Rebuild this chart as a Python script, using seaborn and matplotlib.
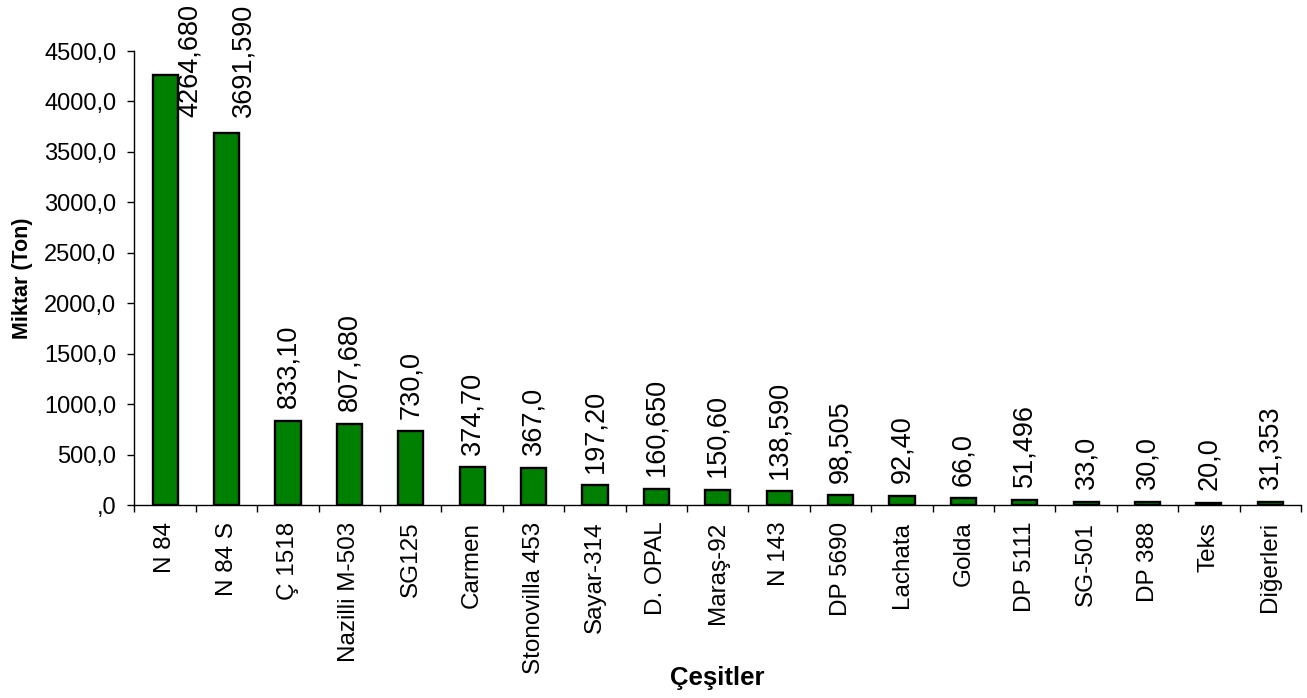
import matplotlib
matplotlib.use("Agg")
import matplotlib.pyplot as plt
from matplotlib.ticker import FuncFormatter, FixedLocator
import seaborn as sns
import pandas as pd
import numpy as np

categories = ["N 84", "N 84 S", "Ç 1518", "Nazilli M-503", "SG125", "Carmen",
              "Stonovilla 453", "Sayar-314", "D. OPAL", "Maraş-92", "N 143",
              "DP 5690", "Lachata", "Golda", "DP 5111", "SG-501", "DP 388",
              "Teks", "Diğerleri"]
values = [4264.680, 3691.590, 833.10, 807.680, 730.0, 374.70, 367.0, 197.20,
          160.650, 150.60, 138.590, 98.505, 92.40, 66.0, 51.496, 33.0, 30.0,
          20.0, 31.353]
value_labels = ["4264,680", "3691,590", "833,10", "807,680", "730,0", "374,70",
                "367,0", "197,20", "160,650", "150,60", "138,590", "98,505",
                "92,40", "66,0", "51,496", "33,0", "30,0", "20,0", "31,353"]
y_ticks = [0, 500, 1000, 1500, 2000, 2500, 3000, 3500, 4000, 4500]

sns.set_theme(style="white")
plt.rcParams['font.family'] = ['Liberation Sans', 'DejaVu Sans']
plt.rcParams['text.color'] = 'black'
plt.rcParams['axes.labelcolor'] = 'black'
plt.rcParams['xtick.color'] = 'black'
plt.rcParams['ytick.color'] = 'black'

df = pd.DataFrame({"cat": categories, "val": values})

fig = plt.figure(figsize=(13.07, 6.98), dpi=100)
ax = fig.add_axes([0.1029, 0.2765, 0.8925, 0.6504])

sns.barplot(data=df, x="cat", y="val", ax=ax, color="#008000", saturation=1,
            width=0.41, edgecolor="black", linewidth=1.7)

ax.set_xlim(-0.5, len(categories) - 0.5)
ax.set_ylim(0, 4500)
ax.yaxis.set_major_locator(FixedLocator(y_ticks))


def fmt(v, pos):
    s = f"{v:.1f}".replace(".", ",")
    if s.startswith("0,"):
        s = s[1:]
    return s


ax.yaxis.set_major_formatter(FuncFormatter(fmt))

# x ticks: marks at boundaries, labels at centres
n = len(categories)
ax.set_xticks(np.arange(-0.5, n, 1.0))
ax.set_xticklabels([])
ax.set_xticks(np.arange(n), minor=True)
ax.set_xticklabels(categories, minor=True, rotation=90, fontsize=17.5,
                   va="top", ha="center")
ax.tick_params(axis="x", which="major", direction="out", length=5, width=1,
               bottom=True)
ax.tick_params(axis="x", which="minor", length=0, pad=12)
ax.tick_params(axis="y", direction="out", length=5, width=1,
               left=True, labelsize=17, pad=8)

for s in ["top", "right"]:
    ax.spines[s].set_visible(False)
for s in ["left", "bottom"]:
    ax.spines[s].set_color("black")
    ax.spines[s].set_linewidth(1.0)

# data labels (the two tallest are pushed to the top edge and shifted right)
shift_px = {0: 25, 1: 17}
for i, (v, lab) in enumerate(zip(values, value_labels)):
    if i in shift_px:
        ax.annotate(lab, xy=(i, 1.0), xycoords=("data", "figure fraction"),
                    xytext=(shift_px[i] * 0.72, -3), textcoords="offset points",
                    rotation=90, ha="center", va="top", fontsize=19.5,
                    annotation_clip=False)
    else:
        ax.annotate(lab, xy=(i, v), xytext=(0, 9), textcoords="offset points",
                    rotation=90, ha="center", va="bottom", fontsize=19.5)

ax.set_xlabel("")
ax.text(0.5, 1 - 678 / 698, "Çeşitler", transform=fig.transFigure,
        fontsize=18.5, fontweight="bold", ha="center", va="center")
ax.texts[-1].set_x(0.1029 + 0.8925 / 2)
ax.set_ylabel("Miktar (Ton)", fontsize=15.5, fontweight="bold", labelpad=8)

fig.savefig("out.png", dpi=100)
